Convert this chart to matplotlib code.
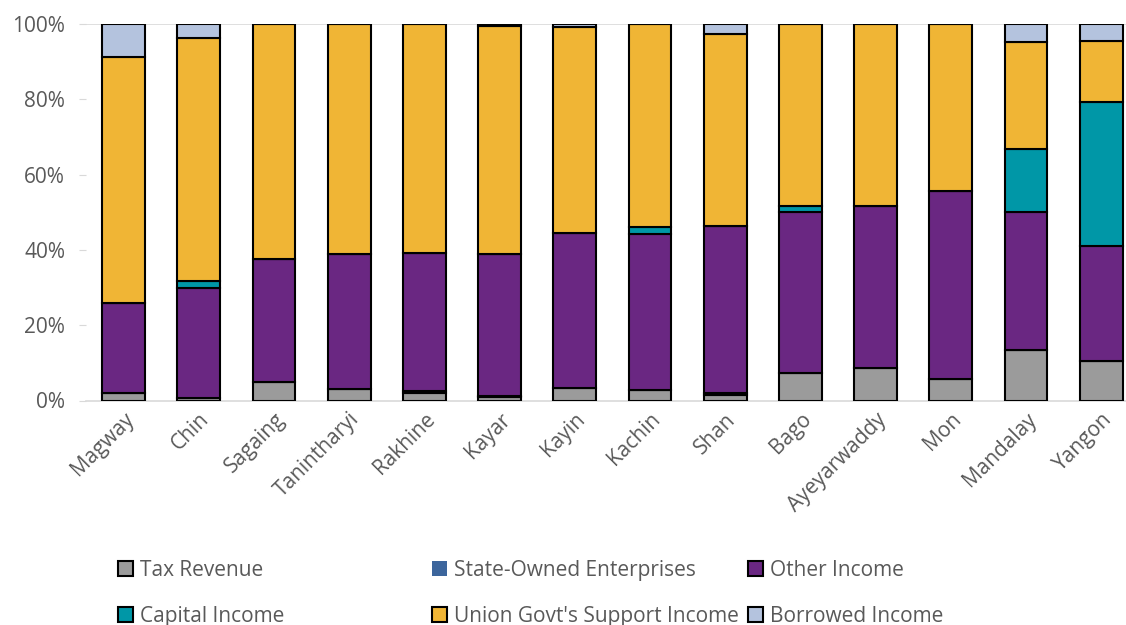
import numpy as np
import matplotlib.pyplot as plt
from matplotlib.patches import Patch

plt.rcParams['font.family'] = ['Open Sans', 'DejaVu Sans']

regions = ['Magway', 'Chin', 'Sagaing', 'Tanintharyi', 'Rakhine', 'Kayar', 'Kayin',
           'Kachin', 'Shan', 'Bago', 'Ayeyarwaddy', 'Mon', 'Mandalay', 'Yangon']

# shares in percent
tax = [2.0, 0.7, 5.0, 3.0, 2.0, 1.0, 3.2, 2.7, 1.5, 7.3, 8.6, 5.8, 13.4, 10.5]
soe = [0.0, 0.0, 0.0, 0.0, 0.4, 0.3, 0.0, 0.0, 0.5, 0.0, 0.0, 0.0, 0.0, 0.0]
other = [24.0, 29.3, 32.6, 36.0, 36.9, 37.7, 41.4, 41.6, 44.4, 42.8, 43.1, 49.8, 36.6, 30.5]
capital = [0.0, 1.8, 0.0, 0.0, 0.0, 0.0, 0.0, 1.9, 0.0, 1.6, 0.0, 0.0, 16.8, 38.3]
union = [65.2, 64.5, 62.4, 61.0, 60.7, 60.4, 54.6, 53.8, 51.0, 48.3, 48.3, 44.4, 28.4, 16.1]
borrowed = [8.8, 3.7, 0.0, 0.0, 0.0, 0.6, 0.8, 0.0, 2.6, 0.0, 0.0, 0.0, 4.8, 4.6]

series = [
    ('Tax Revenue', tax, '#9b9b9b'),
    ('State-Owned Enterprises', soe, '#3c659c'),
    ('Other Income', other, '#6a2782'),
    ('Capital Income', capital, '#0097a7'),
    ("Union Govt's Support Income", union, '#f0b535'),
    ('Borrowed Income', borrowed, '#b4c3de'),
]

fig = plt.figure(figsize=(11.26, 6.25), dpi=100)
ax = fig.add_axes([86 / 1126, 0.3592, 1040 / 1126, 0.6024])

x = np.arange(len(regions))
bottom = np.zeros(len(regions))
handles = {}
for name, vals, color in series:
    vals = np.array(vals)
    ax.bar(x, vals, 0.57, bottom=bottom, color=color, edgecolor='black', linewidth=1.5, zorder=3)
    bottom += vals
    handles[name] = Patch(facecolor=color, edgecolor='none' if name.startswith('State') else 'black',
                          linewidth=1.5)

ax.set_xlim(-0.5, 13.33)
ax.set_ylim(0, 100)
ax.set_yticks(np.arange(0, 101, 20))
ax.set_yticklabels([f'{v}%' for v in range(0, 101, 20)])
ax.axhline(100, color='#d9d9d9', linewidth=1.2, zorder=1)
for s in ['top', 'right', 'left']:
    ax.spines[s].set_visible(False)
ax.spines['bottom'].set_color('#d9d9d9')
ax.spines['bottom'].set_linewidth(1.2)
ax.tick_params(axis='y', length=5, color='#d9d9d9', labelsize=15, labelcolor='#595959', pad=10)
ax.tick_params(axis='x', length=0, labelsize=15, labelcolor='#595959', pad=6)
ax.set_xticks(x)
ax.set_xticklabels(regions, rotation=45, ha='right', rotation_mode='anchor')

cols = [
    (['Tax Revenue', 'Capital Income'], 118),
    (['State-Owned Enterprises', "Union Govt's Support Income"], 432),
    (['Other Income', 'Borrowed Income'], 748),
]
for names, xpx in cols:
    fig.legend([handles[n] for n in names], names, loc='upper left',
               bbox_to_anchor=(xpx / 1126, 1 - 560 / 625), frameon=False,
               fontsize=15, handlelength=0.7, handleheight=0.7, handletextpad=0.35,
               labelspacing=1.2, borderpad=0, borderaxespad=0, labelcolor='#595959')

fig.savefig('out.png', dpi=100)
